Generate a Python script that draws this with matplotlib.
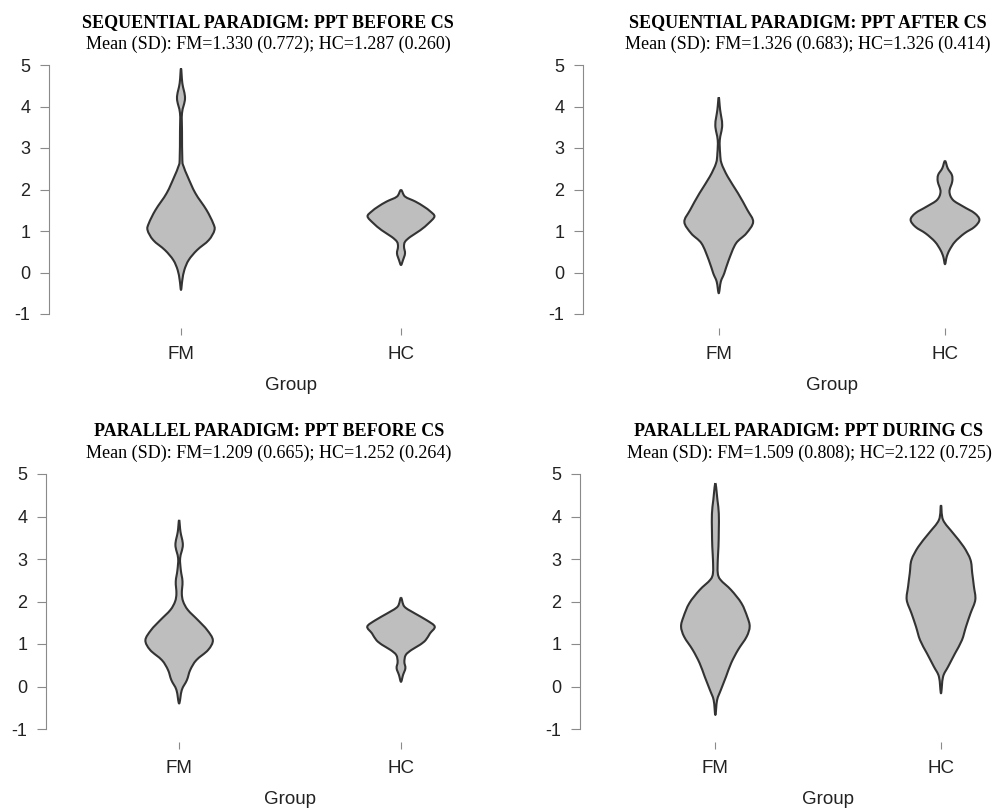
import numpy as np
import matplotlib
matplotlib.use("Agg")
import matplotlib.pyplot as plt
from matplotlib.path import Path
from matplotlib.patches import PathPatch

W, H = 992, 809
fill_col = '#bebebe'
edge_col = '#333333'
axis_col = '#8a8a8a'

groups = ['FM', 'HC']

titles = ['SEQUENTIAL PARADIGM: PPT BEFORE CS',
          'SEQUENTIAL PARADIGM: PPT AFTER CS',
          'PARALLEL PARADIGM: PPT BEFORE CS',
          'PARALLEL PARADIGM: PPT DURING CS']
subtitles = ['Mean (SD): FM=1.330 (0.772); HC=1.287 (0.260)',
             'Mean (SD): FM=1.326 (0.683); HC=1.326 (0.414)',
             'Mean (SD): FM=1.209 (0.665); HC=1.252 (0.264)',
             'Mean (SD): FM=1.509 (0.808); HC=2.122 (0.725)']

# violin outlines: y value and relative half-width (1 = widest)
seq_before_fm_y = [4.92, 4.56, 4.20, 3.84, 3.40, 2.71, 2.55, 2.31, 1.91, 1.51, 1.19, 1.02, 0.78, 0.54, 0.30, 0.06, -0.18, -0.42]
seq_before_fm_w = [0.00, 0.04, 0.12, 0.03, 0.03, 0.04, 0.08, 0.20, 0.43, 0.76, 0.96, 1.00, 0.83, 0.48, 0.23, 0.10, 0.04, 0.00]
seq_before_hc_y = [1.99, 1.83, 1.71, 1.59, 1.47, 1.35, 1.19, 1.02, 0.86, 0.74, 0.62, 0.46, 0.30, 0.18]
seq_before_hc_w = [0.00, 0.12, 0.43, 0.68, 0.88, 1.00, 0.83, 0.58, 0.28, 0.12, 0.09, 0.12, 0.06, 0.00]

seq_after_fm_y = [4.22, 3.92, 3.55, 3.19, 2.87, 2.63, 2.31, 1.91, 1.51, 1.22, 0.94, 0.70, 0.30, -0.02, -0.22, -0.50]
seq_after_fm_w = [0.00, 0.04, 0.10, 0.03, 0.04, 0.08, 0.26, 0.56, 0.83, 1.00, 0.80, 0.50, 0.29, 0.16, 0.06, 0.00]
seq_after_hc_y = [2.69, 2.51, 2.35, 2.19, 1.95, 1.75, 1.59, 1.43, 1.27, 1.10, 0.94, 0.74, 0.54, 0.38, 0.20]
seq_after_hc_w = [0.00, 0.08, 0.20, 0.21, 0.13, 0.23, 0.53, 0.86, 1.00, 0.86, 0.56, 0.29, 0.13, 0.05, 0.00]

par_before_fm_y = [3.92, 3.64, 3.33, 3.02, 2.74, 2.47, 2.19, 2.00, 1.80, 1.56, 1.33, 1.09, 0.86, 0.62, 0.39, 0.15, -0.08, -0.40]
par_before_fm_w = [0.00, 0.04, 0.11, 0.03, 0.05, 0.10, 0.08, 0.12, 0.26, 0.56, 0.83, 1.00, 0.86, 0.51, 0.33, 0.23, 0.08, 0.00]
par_before_hc_y = [2.09, 1.88, 1.72, 1.56, 1.41, 1.25, 1.09, 0.98, 0.86, 0.74, 0.58, 0.43, 0.27, 0.11]
par_before_hc_w = [0.00, 0.10, 0.41, 0.76, 1.00, 0.86, 0.73, 0.56, 0.31, 0.14, 0.10, 0.13, 0.06, 0.00]

par_during_fm_y = [4.78, 4.39, 4.07, 3.68, 3.29, 2.98, 2.67, 2.51, 2.27, 1.96, 1.64, 1.41, 1.17, 0.86, 0.55, 0.23, -0.08, -0.32, -0.67]
par_during_fm_w = [0.00, 0.06, 0.10, 0.10, 0.09, 0.07, 0.07, 0.15, 0.46, 0.76, 0.93, 1.00, 0.91, 0.66, 0.46, 0.31, 0.16, 0.05, 0.00]
par_during_hc_y = [4.27, 3.92, 3.60, 3.29, 2.98, 2.67, 2.35, 2.04, 1.72, 1.41, 1.09, 0.78, 0.47, 0.23, -0.16]
par_during_hc_w = [0.00, 0.06, 0.36, 0.66, 0.86, 0.91, 0.96, 1.00, 0.86, 0.73, 0.61, 0.41, 0.21, 0.06, 0.00]

violins = [
    [(seq_before_fm_y, seq_before_fm_w), (seq_before_hc_y, seq_before_hc_w)],
    [(seq_after_fm_y, seq_after_fm_w), (seq_after_hc_y, seq_after_hc_w)],
    [(par_before_fm_y, par_before_fm_w), (par_before_hc_y, par_before_hc_w)],
    [(par_during_fm_y, par_during_fm_w), (par_during_hc_y, par_during_hc_w)],
]

# panel geometry in pixels: spine x, HC x, y of tick 5, y of tick -1, x-axis tick row
panels_px = [(49, 401, 65, 314, 328),
             (583, 945, 65, 314, 328),
             (46, 401, 474, 729, 742),
             (580, 941, 474, 729, 742)]
title_px = [(268, 23, 44), (808, 23, 44), (269, 432, 453), (809, 432, 453)]
group_label_y = [386, 386, 799, 799]

half_w = 0.152
xlim = (0.4, 2.22)


def violin_path(pos, ys, ws):
    # closed outline through the read points, drawn as a smooth curve
    ys = np.asarray(ys, float)
    ws = np.asarray(ws, float) * half_w
    right = list(zip(pos + ws, ys))
    left = list(zip(pos - ws[::-1], ys[::-1]))
    pts = np.array(right + left[1:-1])
    n = len(pts)
    verts = [pts[0]]
    codes = [Path.MOVETO]
    for k in range(n):
        p0, p1, p2, p3 = pts[k - 1], pts[k], pts[(k + 1) % n], pts[(k + 2) % n]
        verts += [p1 + (p2 - p0) / 6.0, p2 - (p3 - p1) / 6.0, p2]
        codes += [Path.CURVE4] * 3
    return Path(verts, codes)


fig = plt.figure(figsize=(W / 100, H / 100), dpi=100)

for i in range(4):
    left, hc, y5, ym1, xt = panels_px[i]
    ux = (hc - left) / (2 - xlim[0])
    uy = (ym1 - y5) / 6.0
    ylim = (-1 - (xt - ym1) / uy, 5.1)
    right = left + (xlim[1] - xlim[0]) * ux
    top = y5 - (ylim[1] - 5) * uy
    ax_h = xt - top
    ax = fig.add_axes([left / W, 1 - xt / H, (right - left) / W, ax_h / H])
    ax.set_xlim(*xlim)
    ax.set_ylim(*ylim)

    for j, (vy, vw) in enumerate(violins[i]):
        patch = PathPatch(violin_path(j + 1, vy, vw), facecolor=fill_col,
                          edgecolor=edge_col, linewidth=1.5, joinstyle='round',
                          transform=ax.transData, clip_on=False, zorder=3)
        ax.add_patch(patch)

    for s in ['top', 'right', 'bottom']:
        ax.spines[s].set_visible(False)
    ax.spines['left'].set_bounds(-1, 5)
    ax.spines['left'].set_color(axis_col)
    ax.spines['left'].set_linewidth(0.8)
    ax.set_yticks(range(-1, 6))
    ax.set_yticklabels([str(v) for v in range(-1, 6)], fontsize=13,
                       family='Liberation Sans', color='#222222')
    ax.set_xticks([1, 2])
    ax.set_xticklabels(groups, fontsize=13.5, family='Liberation Sans',
                       color='#222222')
    ax.tick_params(axis='y', length=6.5, width=0.8, color=axis_col, pad=7)
    ax.tick_params(axis='x', length=5, width=0.8, color=axis_col, pad=8)
    ax.set_xlabel('Group', fontsize=13.5, family='Liberation Sans', color='#222222')
    ax.xaxis.set_label_coords((1.5 - xlim[0]) / (xlim[1] - xlim[0]),
                              -(group_label_y[i] - xt) / ax_h)
    ax.xaxis.label.set_va('center')

    tx, ty, sy = title_px[i]
    fig.text(tx / W, 1 - ty / H, titles[i], ha='center', va='center',
             fontsize=13, fontweight='bold', family='Liberation Serif')
    fig.text(tx / W, 1 - sy / H, subtitles[i], ha='center', va='center',
             fontsize=13, family='Liberation Serif')

fig.savefig('out.png', dpi=100)
